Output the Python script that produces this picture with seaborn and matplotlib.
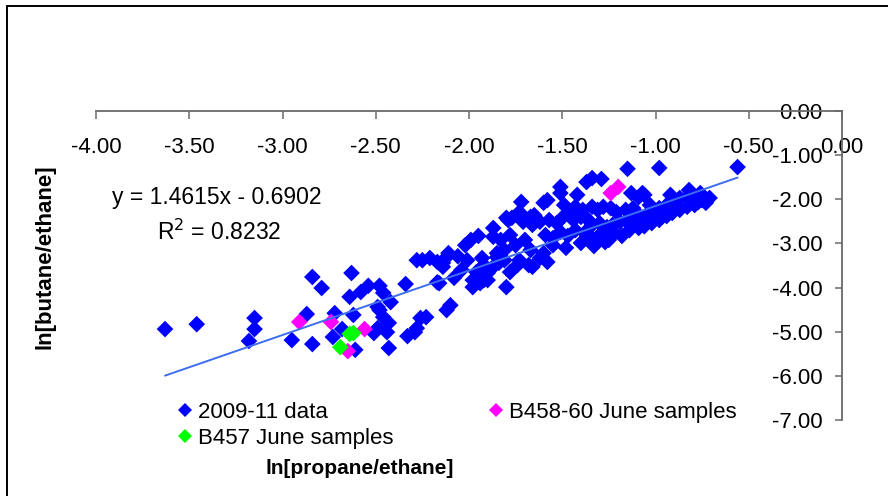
import numpy as np
import pandas as pd
import matplotlib
matplotlib.use("Agg")
import matplotlib.pyplot as plt
from matplotlib.lines import Line2D
from matplotlib.patches import Rectangle
import seaborn as sns

sns.set_theme(style="white")
plt.rcParams["font.family"] = ["Liberation Sans", "DejaVu Sans"]
plt.rcParams.update({"text.color": "black", "axes.labelcolor": "black",
                     "xtick.color": "black", "ytick.color": "black"})

# ln[propane/ethane] and ln[butane/ethane], 2009-11 monitoring data
data_x = [
    -3.63, -3.46, -3.15, -3.15, -3.18, -2.95, -2.84, -2.87, -2.84, -2.79,
    -2.63, -2.64, -2.58, -2.54, -2.48, -2.46, -2.34, -2.72, -2.62, -2.73,
    -2.68, -2.61, -2.43, -2.43, -2.48, -2.46, -2.49, -2.44, -2.51, -2.42,
    -2.33, -2.28, -2.26, -2.23, -2.29, -2.28, -2.25, -2.21, -2.17, -2.17,
    -2.49, -2.14, -2.11, -2.06, -2.16, -2.10, -2.12, -1.93, -1.92, -1.87,
    -1.87, -1.94, -1.90, -1.98, -1.94, -1.85, -1.84, -1.15, -0.98, -0.56,
    -1.37, -1.34, -1.29, -1.51, -1.51, -1.42, -1.13, -1.07, -1.09, -1.06,
    -1.72, -1.58, -1.60, -1.34, -1.28, -1.24, -1.31, -1.12, -1.73, -1.74,
    -1.67, -1.65, -1.80, -1.79, -1.77, -2.12, -2.14, -1.96, -1.98, -1.92,
    -1.90, -1.87, -1.85, -1.81, -1.80, -1.78, -1.74, -1.73, -1.68, -1.66,
    -1.62, -1.60, -1.58,
    -1.71, -1.66, -1.62, -1.57, -1.53, -1.50, -1.46, -1.44, -1.40, -1.39,
    -1.36, -1.34, -1.30, -1.26, -1.23, -1.19, -1.15, -1.12, -1.08, -1.05,
    -1.01, -0.98, -0.94, -0.91, -0.87, -0.83, -0.80, -0.77, -0.75,
    -1.59, -1.55, -1.51, -1.47, -1.43, -1.38, -1.34, -1.30, -1.25, -1.22,
    -1.18, -1.14, -1.09, -1.06, -1.02, -0.98, -0.94, -0.91, -0.87, -0.83,
    -0.79, -0.73, -0.71,
    -1.49, -1.43, -1.21, -1.16, -1.03, -0.92, -0.82, -0.76,
    -2.02, -1.99, -1.95, -1.83, -1.78, -1.75, -1.70, -1.67, -1.81, -2.04,
    -2.08, -2.01,
    -1.55, -1.48, -1.40, -1.33, -1.27,
]
data_y = [
    -4.94, -4.83, -4.69, -4.94, -5.21, -5.19, -5.28, -4.60, -3.76, -4.01,
    -3.67, -4.21, -4.10, -3.96, -3.96, -4.12, -3.92, -4.58, -4.62, -5.12,
    -4.94, -5.41, -5.37, -4.80, -4.51, -4.67, -4.92, -5.01, -5.03, -4.33,
    -5.10, -4.92, -4.69, -4.67, -5.01, -3.38, -3.38, -3.33, -3.42, -3.88,
    -4.44, -3.53, -3.22, -3.29, -3.90, -4.40, -4.51, -3.33, -3.49, -2.65,
    -2.85, -3.76, -3.83, -3.99, -3.90, -3.22, -3.44, -1.31, -1.29, -1.27,
    -1.61, -1.52, -1.54, -1.72, -1.86, -1.90, -1.86, -1.86, -1.95, -1.90,
    -2.06, -2.02, -2.08, -2.17, -2.17, -2.20, -2.24, -2.20, -2.29, -2.36,
    -2.40, -2.36, -2.42, -2.47, -2.42, -3.31, -3.44, -3.65, -3.83, -3.83,
    -3.67, -3.53, -3.31, -3.38, -3.99, -3.65, -3.49, -3.38, -3.49, -3.53,
    -3.33, -3.22, -3.42,
    -2.51, -2.58, -2.51, -2.47, -2.54, -2.42, -2.36, -2.47, -2.40, -2.24,
    -2.47, -2.58, -2.54, -2.63, -2.58, -2.51, -2.51, -2.42, -2.40, -2.36,
    -2.29, -2.20, -2.13, -2.06, -1.97, -1.95, -1.97, -2.06, -2.02,
    -2.81, -2.88, -2.74, -2.83, -2.70, -2.76, -2.88, -2.81, -2.92, -2.76,
    -2.83, -2.70, -2.65, -2.61, -2.54, -2.47, -2.38, -2.31, -2.24, -2.17,
    -2.13, -2.08, -1.97,
    -2.13, -2.17, -2.29, -2.24, -2.13, -1.90, -1.79, -1.86,
    -3.04, -2.92, -2.83, -2.92, -2.81, -3.04, -2.92, -3.15, -3.15, -3.60,
    -3.78, -3.38,
    -3.04, -3.10, -2.99, -3.06, -2.97,
]

# June samples
b458_x = [-2.91, -2.74, -2.56, -2.65, -1.24, -1.20]
b458_y = [-4.78, -4.78, -4.94, -5.44, -1.86, -1.72]
b457_x = [-2.64, -2.62, -2.69]
b457_y = [-5.05, -5.03, -5.35]

# linear trendline fitted to the 2009-11 data
slope = 1.4615
intercept = -0.6902
r_squared = 0.8232

series_names = ["2009-11 data", "B458-60 June samples", "B457 June samples"]
series_colors = ["#0000FF", "#FF00FF", "#00FF00"]

df = pd.concat([
    pd.DataFrame({"x": data_x, "y": data_y, "series": series_names[0]}),
    pd.DataFrame({"x": b458_x, "y": b458_y, "series": series_names[1]}),
    pd.DataFrame({"x": b457_x, "y": b457_y, "series": series_names[2]}),
], ignore_index=True)

W, H = 888, 496
fig = plt.figure(figsize=(W / 100, H / 100), dpi=100)
ax = fig.add_axes([96 / W, 1 - 420 / H, 746 / W, 309 / H])

sns.scatterplot(
    data=df, x="x", y="y", hue="series", hue_order=series_names,
    palette=dict(zip(series_names, series_colors)), marker="D", s=72,
    linewidth=0, legend=False, ax=ax, zorder=2,
)

# trendline over the range of the 2009-11 data
tx = np.array([min(data_x), max(data_x)])
ax.plot(tx, slope * tx + intercept, color="#3C6EF0", lw=1.4, zorder=3)

ax.set_xlim(-4, 0)
ax.set_ylim(-7, 0)
ax.set_facecolor("white")

axis_col = "#6A6A6A"
for side in ["left", "bottom"]:
    ax.spines[side].set_visible(False)
for side in ["top", "right"]:
    ax.spines[side].set_visible(True)
    ax.spines[side].set_color(axis_col)
    ax.spines[side].set_linewidth(1.3)

xt = np.arange(-4.0, 0.001, 0.5)
yt = np.arange(-7.0, 0.001, 1.0)
ax.set_xticks(xt)
ax.set_xticklabels([f"{v:.2f}" for v in xt])
ax.set_yticks(yt)
ax.set_yticklabels([f"{v:.2f}" for v in yt])

ax.tick_params(axis="x", which="major", top=True, bottom=False, labeltop=True,
               labelbottom=False, direction="in", length=5.5, width=1.1,
               color=axis_col, labelsize=16, labelcolor="black", pad=-18.5)
ax.tick_params(axis="y", which="major", right=True, left=False, labelright=True,
               labelleft=False, direction="in", length=5, width=1.1,
               color=axis_col, labelsize=16, labelcolor="black", pad=-14)
ax.grid(False)

ax.set_xlabel("ln[propane/ethane]", fontsize=15, fontweight="bold")
ax.xaxis.set_label_position("bottom")
ax.xaxis.label.set_va("center")
ax.xaxis.set_label_coords((360 - 96) / 746, (420 - 468) / 309)
ax.set_ylabel("ln[butane/ethane]", fontsize=16, fontweight="bold")
ax.yaxis.set_label_position("left")
ax.yaxis.label.set_va("center")
ax.yaxis.label.set_ha("center")
ax.yaxis.set_label_coords((45 - 96) / 746, (420 - 257) / 309)

ax.text(-3.35, -1.95, f"y = {slope:.4f}x - {abs(intercept):.4f}",
        fontsize=16.5, ha="center", va="center")
ax.text(-3.34, -2.74, f"R$^2$ = {r_squared:.4f}",
        fontsize=16.5, ha="center", va="center")
plt.rcParams["mathtext.fontset"] = "custom"
plt.rcParams["mathtext.rm"] = "Liberation Sans"
plt.rcParams["mathtext.it"] = "Liberation Sans"

handles = [
    Line2D([], [], marker="D", ls="none", color=series_colors[0], markersize=7,
           markeredgewidth=0, label=series_names[0]),
    Line2D([], [], marker="D", ls="none", color=series_colors[2], markersize=7,
           markeredgewidth=0, label=series_names[2]),
    Line2D([], [], marker="D", ls="none", color=series_colors[1], markersize=7,
           markeredgewidth=0, label=series_names[1]),
]
fig.legend(handles=handles, ncol=2, frameon=False, fontsize=16,
           loc="upper left", bbox_to_anchor=(178 / W, 1 - 402 / H),
           borderaxespad=0, borderpad=0, handlelength=0.6, handletextpad=0.3,
           columnspacing=4.3, labelspacing=0.22)

# chart border
fig.patches.append(Rectangle((7 / W, -0.1), 1.2, 1.1 - 6 / H,
                             transform=fig.transFigure, fill=False,
                             edgecolor="black", lw=1.4, zorder=0))

for t in ax.xaxis.get_major_ticks():
    t.label2.set_va("top")
for t in ax.yaxis.get_major_ticks():
    t.label2.set_ha("right")

fig.savefig("out.png", dpi=100, facecolor="white")
